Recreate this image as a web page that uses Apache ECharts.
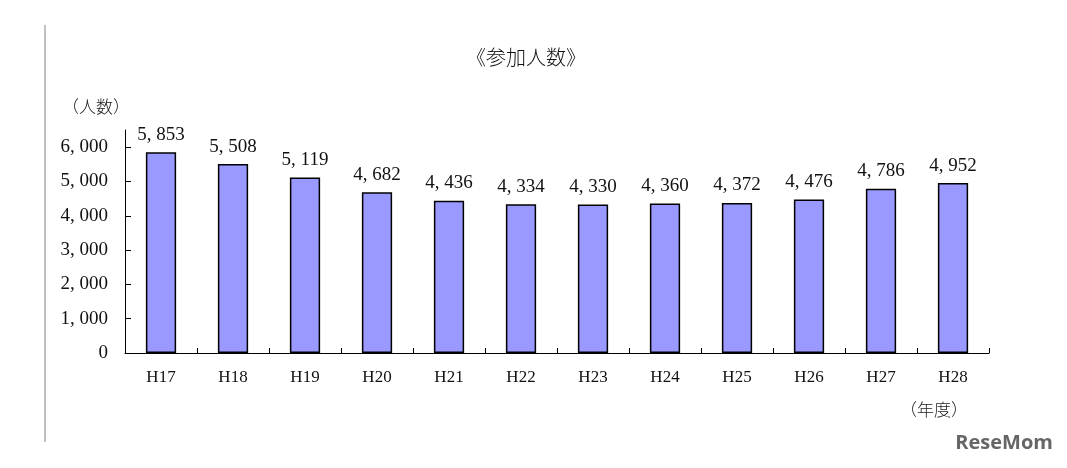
<!DOCTYPE html>
<html><head><meta charset="utf-8">
<script src="https://cdn.jsdelivr.net/npm/echarts@6/dist/echarts.min.js"></script>
<style>html,body{margin:0;padding:0;background:#fff}#c{width:1067px;height:468px}</style>
</head><body><div id="c"></div>
<script>
const categories = ['H17','H18','H19','H20','H21','H22','H23','H24','H25','H26','H27','H28'];
const participants = [5853, 5508, 5119, 4682, 4436, 4334, 4330, 4360, 4372, 4476, 4786, 4952];
const yTicks = [0, 1000, 2000, 3000, 4000, 5000, 6000];
const titleText = '《参加人数》';
const yName = '（人数）';
const xName = '（年度）';

function fmt(v){ return String(v).replace(/\B(?=(\d{3})+(?!\d))/g, ', '); }
const serif = '"Liberation Serif", "DejaVu Serif", serif';
const cjk = '"Noto Sans CJK JP", sans-serif';

const chart = echarts.init(document.getElementById('c'), null, {renderer:'canvas'});
chart.setOption({
  animation:false,
  backgroundColor:'#fff',
  title:{text:titleText, left:521, top:42, textAlign:'center',
    textStyle:{fontFamily:cjk, fontWeight:300, fontSize:20, color:'#111'}},
  grid:{left:125, right:78, top:130, bottom:115},
  xAxis:{type:'category', data:categories,
    axisLine:{lineStyle:{color:'#000', width:1}},
    axisTick:{show:true, inside:true, length:5, alignWithLabel:false, lineStyle:{color:'#000'}},
    axisLabel:{margin:16, fontFamily:serif, fontSize:17, color:'#111'}},
  yAxis:{type:'value', min:0, max:6500,
    splitLine:{show:false},
    axisLine:{show:true, lineStyle:{color:'#000', width:1}},
    axisTick:{show:true, inside:true, length:6, customValues:yTicks, lineStyle:{color:'#000'}},
    axisLabel:{customValues:yTicks, margin:17, fontFamily:serif, fontSize:19, color:'#111', formatter:fmt}},
  series:[{type:'bar', data:participants, barWidth:'42%',
    itemStyle:{color:'#9999ff', borderColor:'#000', borderWidth:1.5},
    label:{show:true, position:'top', distance:8, fontFamily:serif, fontSize:19, color:'#111',
      formatter:p=>fmt(p.value)}}],
  graphic:[
    {type:'line', shape:{x1:45, y1:25, x2:45, y2:442}, style:{stroke:'#c0c0c0', lineWidth:2}},
    {type:'text', left:62, top:98, style:{text:yName, font:'300 17px '+cjk, fill:'#222'}},
    {type:'text', left:900, top:401, style:{text:xName, font:'300 17px '+cjk, fill:'#222'}},
    {type:'text', right:14, top:433, style:{text:'ReseMom', font:'bold 20px "Open Sans", sans-serif', fill:'#666'}}
  ]
});
</script></body></html>
